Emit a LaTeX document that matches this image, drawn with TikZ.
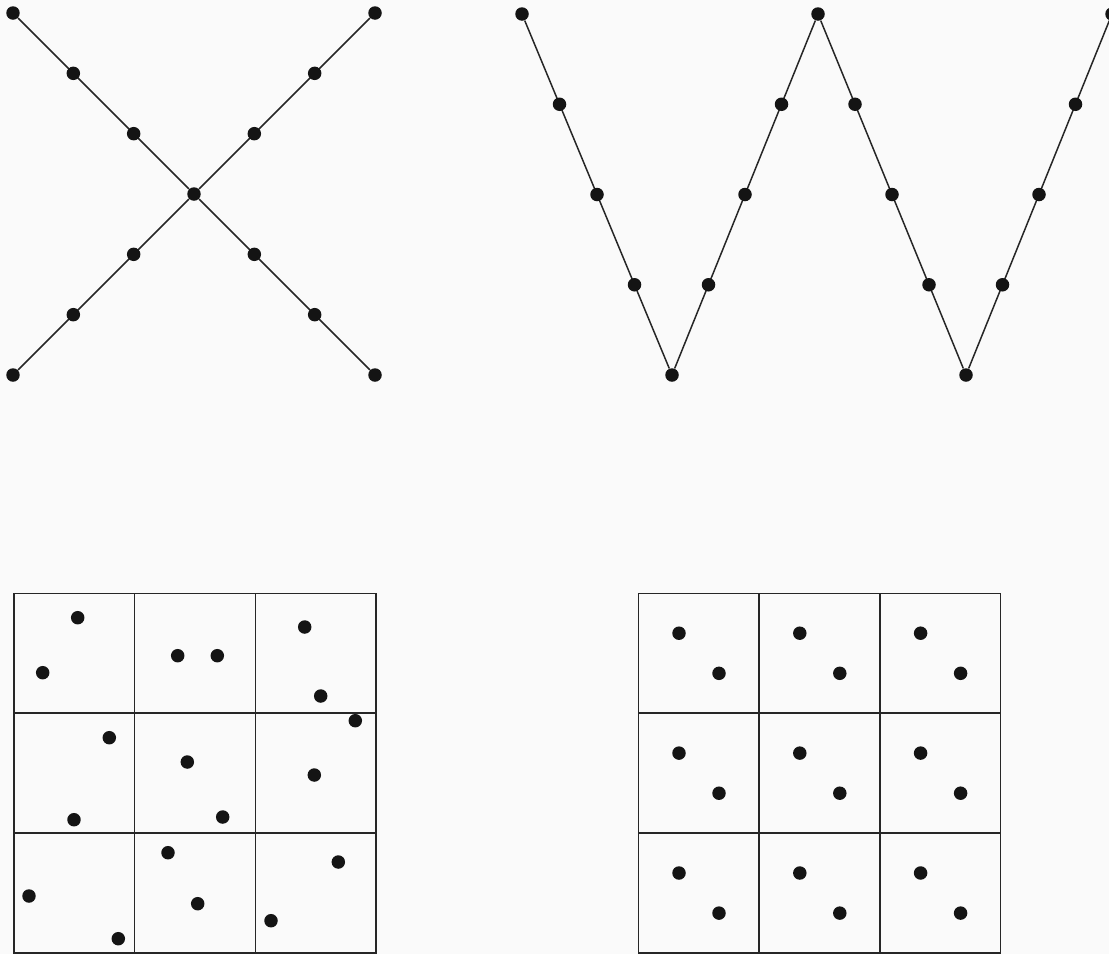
\documentclass[tikz,border=0pt]{standalone}
\usetikzlibrary{calc}
\begin{document}
\begin{tikzpicture}[x=0.02cm,y=-0.02cm,
  dot/.style={circle,fill=black!92,inner sep=0pt,minimum size=0.27cm},
  edge/.style={line width=0.85pt,black!85},
  cell/.style={line width=0.85pt,black!85}]
\useasboundingbox[fill=white!98!black] (0,0) rectangle (1109,954);
% ---------- X shape ----------
\node[dot] (xa) at (13,13) {};
\node[dot] (xb) at (375,13) {};
\node[dot] (xc) at (13,375) {};
\node[dot] (xd) at (375,375) {};
\node[dot] (xm) at (194,194) {};
\draw[edge] (xa) -- (xm) -- (xd);
\draw[edge] (xb) -- (xm) -- (xc);
\foreach \t [count=\i] in {0.3333,0.6667} {
  \node[dot] (xam\i) at ($(xa)!\t!(xm)$) {};
  \node[dot] (xbm\i) at ($(xb)!\t!(xm)$) {};
  \node[dot] (xcm\i) at ($(xc)!\t!(xm)$) {};
  \node[dot] (xdm\i) at ($(xd)!\t!(xm)$) {};
}
% ---------- W shape ----------
\node[dot] (w1) at (522,14) {};
\node[dot] (w2) at (672,375) {};
\node[dot] (w3) at (818,14) {};
\node[dot] (w4) at (966,375) {};
\node[dot] (w5) at (1112,14) {};
\draw[edge] (w1) -- (w2) -- (w3) -- (w4) -- (w5);
\foreach \t [count=\i] in {0.25,0.5,0.75} {
  \node[dot] (wa\i) at ($(w1)!\t!(w2)$) {};
  \node[dot] (wb\i) at ($(w2)!\t!(w3)$) {};
  \node[dot] (wc\i) at ($(w3)!\t!(w4)$) {};
  \node[dot] (wd\i) at ($(w4)!\t!(w5)$) {};
}
% ---------- left grid (random) ----------
\foreach \i in {0,1,2} \foreach \j in {0,1,2}
  \draw[cell] ({14+120.67*\i},{593.3+119.9*\j}) rectangle ({14+120.67*(\i+1)},{593.3+119.9*(\j+1)});
\foreach \x/\y [count=\k] in {77.7/617.7, 42.7/672.7, 177.7/655.7, 217.3/655.7, 304.7/627,
  320.7/696, 355.3/720.7, 109.3/737.7, 187.3/762, 314.3/775, 74/819.7, 222.7/817,
  168/852.7, 338.3/862, 29/896, 197.7/903.7, 271/920.7, 118.3/938.7}
  \node[dot] (r\k) at (\x,\y) {};
% ---------- right grid (regular) ----------
\foreach \i in {0,1,2} \foreach \j in {0,1,2} {
  \draw[cell] ({638.3+120.8*\i},{593.3+119.9*\j}) rectangle ({638.3+120.8*(\i+1)},{593.3+119.9*(\j+1)});
  \node[dot] (s\i\j a) at ({638.3+120.8*\i+40.7},{593.3+119.9*\j+39.9}) {};
  \node[dot] (s\i\j b) at ({638.3+120.8*\i+80.7},{593.3+119.9*\j+80}) {};
}
\end{tikzpicture}
\end{document}
